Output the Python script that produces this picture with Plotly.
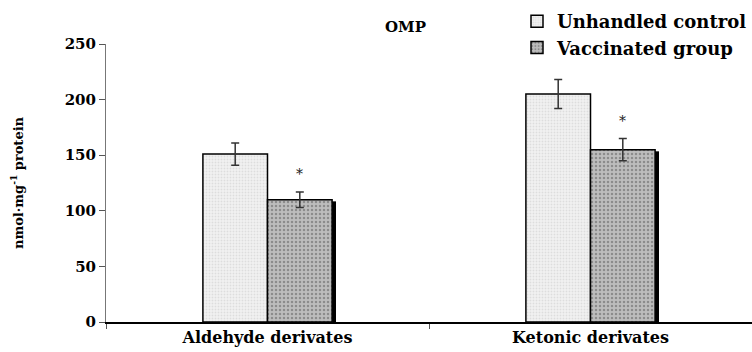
import plotly.graph_objects as go

categories = ["Aldehyde derivates", "Ketonic derivates"]
control_vals = [151, 205]
control_err = [10, 13]
vacc_vals = [110, 155]
vacc_err = [7, 10]
series_names = ["Unhandled control", "Vaccinated group"]
y_ticks = [0, 50, 100, 150, 200, 250]

FONT = "DejaVu Serif"

fig = go.Figure()
fig.add_trace(go.Bar(
    x=categories, y=control_vals, name=series_names[0],
    marker=dict(color="#eeeeee", line=dict(color="black", width=1.5),
                pattern=dict(shape=".", fgcolor="#c8c8c8", bgcolor="#f2f2f2", size=3, solidity=0.3)),
    error_y=dict(type="data", array=control_err, color="#333333", thickness=1.5, width=4),
))
fig.add_trace(go.Bar(
    x=categories, y=vacc_vals, name=series_names[1],
    marker=dict(color="#b0b0b0", line=dict(color="black", width=1.5),
                pattern=dict(shape=".", fgcolor="#5a5a5a", bgcolor="#bdbdbd", size=4, solidity=0.3)),
    error_y=dict(type="data", array=vacc_err, color="#333333", thickness=1.5, width=4),
))

shapes = []
annotations = []
for i, (v, e) in enumerate(zip(vacc_vals, vacc_err)):
    shapes.append(dict(type="rect", xref="x", yref="y", x0=i + 0.2, x1=i + 0.212,
                       y0=0, y1=v - 1.5, fillcolor="black", line=dict(width=0), layer="above"))
    annotations.append(dict(x=i + 0.1, y=v + e, xref="x", yref="y", text="*", showarrow=False,
                            yanchor="bottom", yshift=8, font=dict(family=FONT, size=14, color="#222222")))

annotations.append(dict(xref="x domain", yref="y domain",
                        x=(405 - 106) / 646, y=(322 - 16) / 278, text="<b>OMP</b>", showarrow=False,
                        font=dict(family=FONT, size=15, color="black")))

fig.update_layout(
    width=752, height=352,
    margin=dict(l=106, r=0, t=44, b=30),
    paper_bgcolor="white", plot_bgcolor="white",
    barmode="group", bargap=0.6, bargroupgap=0,
    font=dict(family=FONT, color="black"),
    showlegend=True,
    legend=dict(x=1.0, xanchor="right", y=(322 - 3) / 278, yanchor="top",
                font=dict(family=FONT, size=18, color="black", weight="bold"),
                tracegroupgap=0, itemwidth=30, bgcolor="rgba(0,0,0,0)"),
    shapes=shapes, annotations=annotations,
    xaxis=dict(type="category", showline=True, linecolor="black", linewidth=1.5,
               ticks="outside", tickson="boundaries", ticklen=5, tickcolor="#555555",
               tickfont=dict(family=FONT, size=16, color="black", weight="bold"),
               showgrid=False, zeroline=False),
    yaxis=dict(range=[0, 250], tickvals=y_ticks, showline=True, linecolor="#777777", linewidth=1,
               ticks="outside", ticklen=6, tickcolor="#555555",
               tickfont=dict(family=FONT, size=15, color="black", weight="bold"),
               showgrid=False, zeroline=False,
               title=dict(text="<b>nmol·mg<sup>-1</sup> protein</b>", standoff=38,
                          font=dict(family=FONT, size=13, color="black"))),
)

fig.write_html("out.html")
